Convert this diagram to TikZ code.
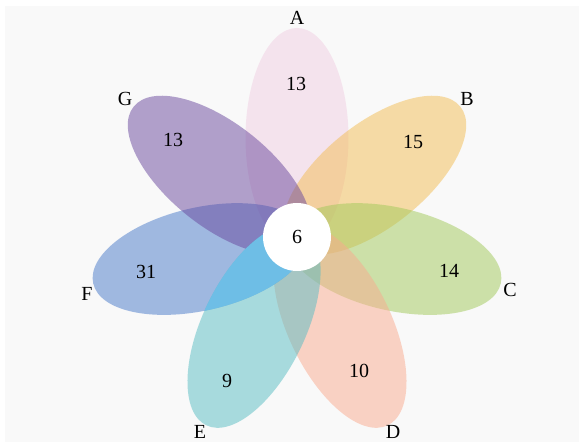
\documentclass[tikz,border=0pt]{standalone}
\usepackage{tikz}
\usepackage{fontspec}
\setmainfont{Liberation Serif}

% petal colours (drawn at half opacity)
\definecolor{petA}{RGB}{241,207,227}
\definecolor{petB}{RGB}{243,189,83}
\definecolor{petC}{RGB}{161,201,89}
\definecolor{petD}{RGB}{249,171,143}
\definecolor{petE}{RGB}{87,189,195}
\definecolor{petF}{RGB}{71,121,201}
\definecolor{petG}{RGB}{105,71,157}
\definecolor{skyEF}{RGB}{110,190,230}
\definecolor{paper}{RGB}{249,249,249}

\tikzset{
  petal/.style={fill=#1, fill opacity=0.5, draw=none},
  count/.style={font=\fontsize{20}{24}\selectfont, inner sep=0pt},
  setname/.style={font=\fontsize{20}{24}\selectfont, inner sep=0pt},
}

% one petal: colour, direction angle
\newcommand{\flowerpetal}[2]{%
  \fill[petal=#1, shift={(hub)}, rotate=#2] (99,0) ellipse [x radius=110, y radius=51.5];}

\begin{document}
\begin{tikzpicture}[x=1pt,y=1pt]
  \useasboundingbox (0,0) rectangle (584,442);
  \fill[white] (0,0) rectangle (584,442);
  \fill[paper] (5,0) rectangle (579,436);

  \coordinate (hub) at (297,205);

  \flowerpetal{petA}{90}
  \flowerpetal{petB}{38.571}
  \flowerpetal{petC}{-12.857}
  \flowerpetal{petD}{-64.286}
  \flowerpetal{petF}{-167.143}
  \flowerpetal{petE}{-115.714}
  \flowerpetal{petG}{141.429}

  % the E and F overlap is a brighter blue
  \begin{scope}
    \clip[shift={(hub)}, rotate=-115.714] (99,0) ellipse [x radius=110, y radius=51.5];
    \fill[skyEF, shift={(hub)}, rotate=-167.143] (99,0) ellipse [x radius=110, y radius=51.5];
  \end{scope}

  % shared core
  \node[circle, fill=white, minimum size=68pt, inner sep=0pt] (core) at (hub) {};
  \node[count] (n0) at (core) {6};

  % counts unique to each set
  \node[count] (nA) at (296,358) {13};
  \node[count] (nB) at (413,300) {15};
  \node[count] (nC) at (449,171) {14};
  \node[count] (nD) at (359,71) {10};
  \node[count] (nE) at (227,61) {9};
  \node[count] (nF) at (146,170) {31};
  \node[count] (nG) at (173,302) {13};

  % set names
  \node[setname] (lA) at (297,424) {A};
  \node[setname] (lB) at (467,343) {B};
  \node[setname] (lC) at (510,152) {C};
  \node[setname] (lD) at (393,10) {D};
  \node[setname] (lE) at (200,10) {E};
  \node[setname] (lF) at (87,148) {F};
  \node[setname] (lG) at (125,343) {G};
\end{tikzpicture}
\end{document}
